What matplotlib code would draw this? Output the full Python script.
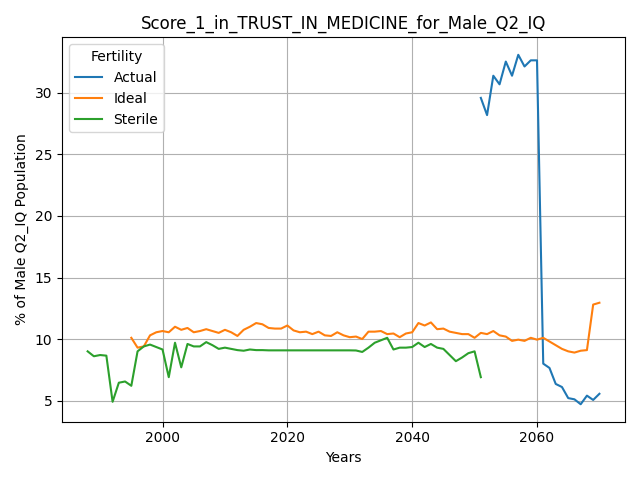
import numpy as np
import matplotlib
matplotlib.use("Agg")
import matplotlib.pyplot as plt

years = list(range(1988, 2071))

actual_years = list(range(2051, 2071))
actual = [29.6, 28.2, 31.4, 30.7, 32.55, 31.4, 33.1, 32.15, 32.65, 32.65,
          8.0, 7.65, 6.35, 6.1, 5.2, 5.1, 4.7, 5.4, 5.05, 5.55]

ideal_years = list(range(1995, 2071))
ideal = [10.1, 9.3, 9.4, 10.3, 10.55, 10.65, 10.55, 11.0, 10.75, 10.9,
         10.55, 10.65, 10.8, 10.65, 10.5, 10.75, 10.55, 10.25, 10.75, 11.0,
         11.3, 11.2, 10.9, 10.85, 10.85, 11.1, 10.7, 10.55, 10.6, 10.4,
         10.6, 10.3, 10.25, 10.55, 10.3, 10.15, 10.2, 10.0, 10.6, 10.6,
         10.65, 10.4, 10.45, 10.15, 10.45, 10.55, 11.3, 11.1, 11.35, 10.8,
         10.85, 10.6, 10.5, 10.4, 10.4, 10.1, 10.5, 10.4, 10.65, 10.3,
         10.2, 9.85, 9.95, 9.85, 10.1, 9.95, 10.1, 9.8, 9.5, 9.2,
         9.0, 8.9, 9.05, 9.1, 12.8, 12.95]

sterile_years = list(range(1988, 2052))
sterile = [9.0, 8.6, 8.7, 8.65, 4.9, 6.45, 6.55, 6.2, 9.0, 9.4,
           9.55, 9.35, 9.15, 6.9, 9.7, 7.7, 9.6, 9.4, 9.4, 9.75,
           9.5, 9.2, 9.3, 9.2, 9.1, 9.05, 9.15, 9.1, 9.1, 9.08,
           9.08, 9.08, 9.08, 9.08, 9.08, 9.08, 9.08, 9.08, 9.08, 9.08,
           9.08, 9.08, 9.08, 9.07, 8.95, 9.3, 9.7, 9.9, 10.1, 9.15,
           9.3, 9.3, 9.35, 9.7, 9.35, 9.6, 9.3, 9.2, 8.7, 8.2,
           8.5, 8.85, 9.0, 6.9]

fig, ax = plt.subplots(figsize=(6.4, 4.8), dpi=100)
ax.plot(actual_years, actual, label="Actual", color="#1f77b4")
ax.plot(ideal_years, ideal, label="Ideal", color="#ff7f0e")
ax.plot(sterile_years, sterile, label="Sterile", color="#2ca02c")
ax.set_title("Score_1_in_TRUST_IN_MEDICINE_for_Male_Q2_IQ")
ax.set_xlabel("Years")
ax.set_ylabel("% of Male Q2_IQ Population")
ax.grid(True)
ax.legend(title="Fertility", loc="upper left")
fig.tight_layout()
fig.savefig("out.png")
